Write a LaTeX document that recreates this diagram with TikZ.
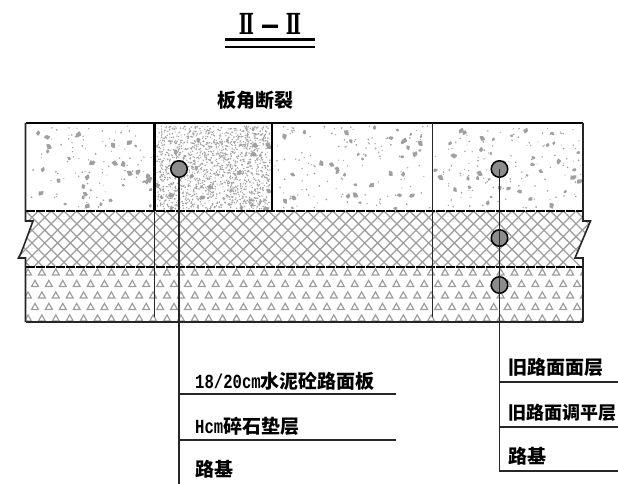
\documentclass[tikz,border=0pt]{standalone}
\usepackage{fontspec}
\setmainfont[FakeStretch=0.78]{Liberation Mono}
\newfontfamily\cjkf{Noto Sans CJK SC}
\newfontfamily\romanf[FakeStretch=0.62]{DejaVu Serif}
\usetikzlibrary{calc}
\definecolor{spk}{HTML}{A0A0A0}
\tikzset{
  lbl/.style={inner sep=0pt,anchor=base west,font=\fontsize{20}{20}\selectfont\bfseries},
  heavy/.style={line width=2.2pt,black},
  medium/.style={line width=1.6pt,black!85},
  thin line/.style={line width=1.5pt,black!85},
  marker/.style={circle,draw=black,line width=1.5pt,fill=black!45,minimum size=16.5pt,inner sep=0pt},
  hatch/.style={line width=1.3pt,spk},
  tri/.style={line width=1.2pt,draw=black!38,fill=none},
}
\newcommand{\CJ}[1]{{\cjkf\fontsize{19}{19}\selectfont\bfseries #1}}
\newcommand{\CJs}[1]{{\cjkf\fontsize{18}{18}\selectfont\bfseries #1}}
\newcommand{\speck}[6]{% x0,x1,y0,y1,small count,blob count
  \pgfmathsetmacro\xa{#1}\pgfmathsetmacro\xb{#2}\pgfmathsetmacro\ya{#3}\pgfmathsetmacro\yb{#4}
  \foreach \i in {1,...,#5}{
    \pgfmathsetmacro\px{\xa+rnd*(\xb-\xa)}\pgfmathsetmacro\py{\ya+rnd*(\yb-\ya)}\pgfmathsetmacro\pr{0.55+0.45*rnd}
    \fill[spk] (\px,\py) circle[radius=\pr pt];
  }
  \foreach \i in {1,...,#6}{
    \pgfmathsetmacro\px{\xa+rnd*(\xb-\xa)}\pgfmathsetmacro\py{\ya+rnd*(\yb-\ya)}\pgfmathsetmacro\pr{1.5+1.8*rnd}\pgfmathsetmacro\pa{360*rnd}
    \fill[spk,rounded corners=0.6pt] ($(\px,\py)+(\pa:\pr)$) -- ($(\px,\py)+(\pa+110:\pr*1.1)$) -- ($(\px,\py)+(\pa+190:\pr*.8)$) -- ($(\px,\py)+(\pa+280:\pr*1.2)$) -- cycle;
  }
}
\begin{document}
\begin{tikzpicture}[x=1pt,y=-1pt]
\useasboundingbox (0,0) rectangle (618,484);
\pgfmathsetseed{4217}
% speckled slabs
\speck{28}{152}{126}{209}{95}{32}
\speck{157}{270}{126}{209}{1500}{26}
\speck{275}{430}{126}{209}{120}{38}
\speck{435}{581}{126}{209}{120}{40}
% cross hatch
\begin{scope}
  \clip (25.5,211) -- (25.5,221) -- (33,221) -- (20,258) -- (25.5,258) -- (25.5,267) -- (583,267) -- (583,258) -- (575,258) -- (590,221) -- (583,221) -- (583,211) -- cycle;
  \foreach \k in {-6,...,48}{
    \draw[hatch] ({\k*12.8},211) -- ({\k*12.8+56},267);
    \draw[hatch] ({\k*12.8},211) -- ({\k*12.8-56},267);
  }
\end{scope}
% triangles
\begin{scope}
  \clip (25.5,267) rectangle (583,322);
  \foreach \yy/\off in {272/28,283.5/35,295/28,306.5/35,318/28}{
    \foreach \k in {-1,...,41}{
      \draw[tri] ({\off+\k*13.9-3.4},\yy+2.9) -- ({\off+\k*13.9},\yy-3.1) -- ({\off+\k*13.9+3.4},\yy+2.9) -- cycle;
    }
  }
\end{scope}
% structure
\draw[heavy] (25.5,123) -- (583,123);
\draw[heavy,dash pattern=on 9pt off 1pt] (25.5,211) -- (583,211);
\draw[heavy,dash pattern=on 9pt off 1pt] (25.5,267) -- (583,267);
\draw[medium] (25.5,322) -- (583,322);
\draw[medium] (25.5,123) -- (25.5,221) -- (33,221) -- (21.5,252) -- (18.5,258) -- (25.5,258) -- (25.5,322);
\draw[medium] (583,123) -- (583,221) -- (590.5,221) -- (575,258) -- (583,258) -- (583,322);
\draw[line width=2.4pt] (154.5,123) -- (154.5,211);
\draw[line width=2.4pt] (272,123) -- (272,211);
\draw[thin line] (154.5,211) -- (154.5,317);
\draw[thin line] (432.5,123) -- (432.5,317);
% markers
\node[marker] (mA) at (179,169) {};
\node[marker] (mB) at (499.5,169) {};
\node[marker] (mC) at (499.5,238) {};
\node[marker] (mD) at (499.5,285) {};
% left callout
\coordinate (la) at (179,394);
\coordinate (lb) at (179,440);
\coordinate (lc) at (179,484);
\coordinate (lae) at (396,394);
\coordinate (lbe) at (396,440);
\draw[thin line] (mA.south) -- (lc);
\draw[thin line] (la) -- (lae);
\draw[thin line] (lb) -- (lbe);
\node[lbl] (t1) at (195,388) {18/20cm\CJ{水泥砼路面板}};
\node[lbl] (t2) at (195,433) {Hcm\CJ{碎石垫层}};
\node[lbl] (t3) at (195,476) {\CJ{路基}};
% right callout
\coordinate (ra) at (499.5,382);
\coordinate (rb) at (499.5,427);
\coordinate (rc) at (499.5,471);
\coordinate (rae) at (618,382);
\coordinate (rbe) at (618,427);
\coordinate (rce) at (618,471);
\draw[thin line] (mB.center) -- (mC.center) -- (mD.center) -- (rc) -- (rce);
\draw[thin line] (ra) -- (rae);
\draw[thin line] (rb) -- (rbe);
\node[lbl] (t4) at (508,374) {\CJ{旧路面面层}};
\node[lbl] (t5) at (508,419) {\CJs{旧路面调平层}};
\node[lbl] (t6) at (508,463) {\CJ{路基}};
% title
\node[inner sep=0pt] (cap) at (255.5,100) {\CJ{板角断裂}};
\node[inner sep=0pt,font=\fontsize{29}{29}\selectfont\romanf\bfseries] (sec) at (270,24) {Ⅱ\hspace{7pt}—\hspace{7pt}Ⅱ};
\coordinate (ua) at (225,39.5);
\coordinate (ub) at (315,39.5);
\coordinate (va) at (225,47);
\coordinate (vb) at (315,47);
\draw[line width=3.2pt] (ua) -- (ub);
\draw[line width=1.6pt] (va) -- (vb);
\end{tikzpicture}
\end{document}
